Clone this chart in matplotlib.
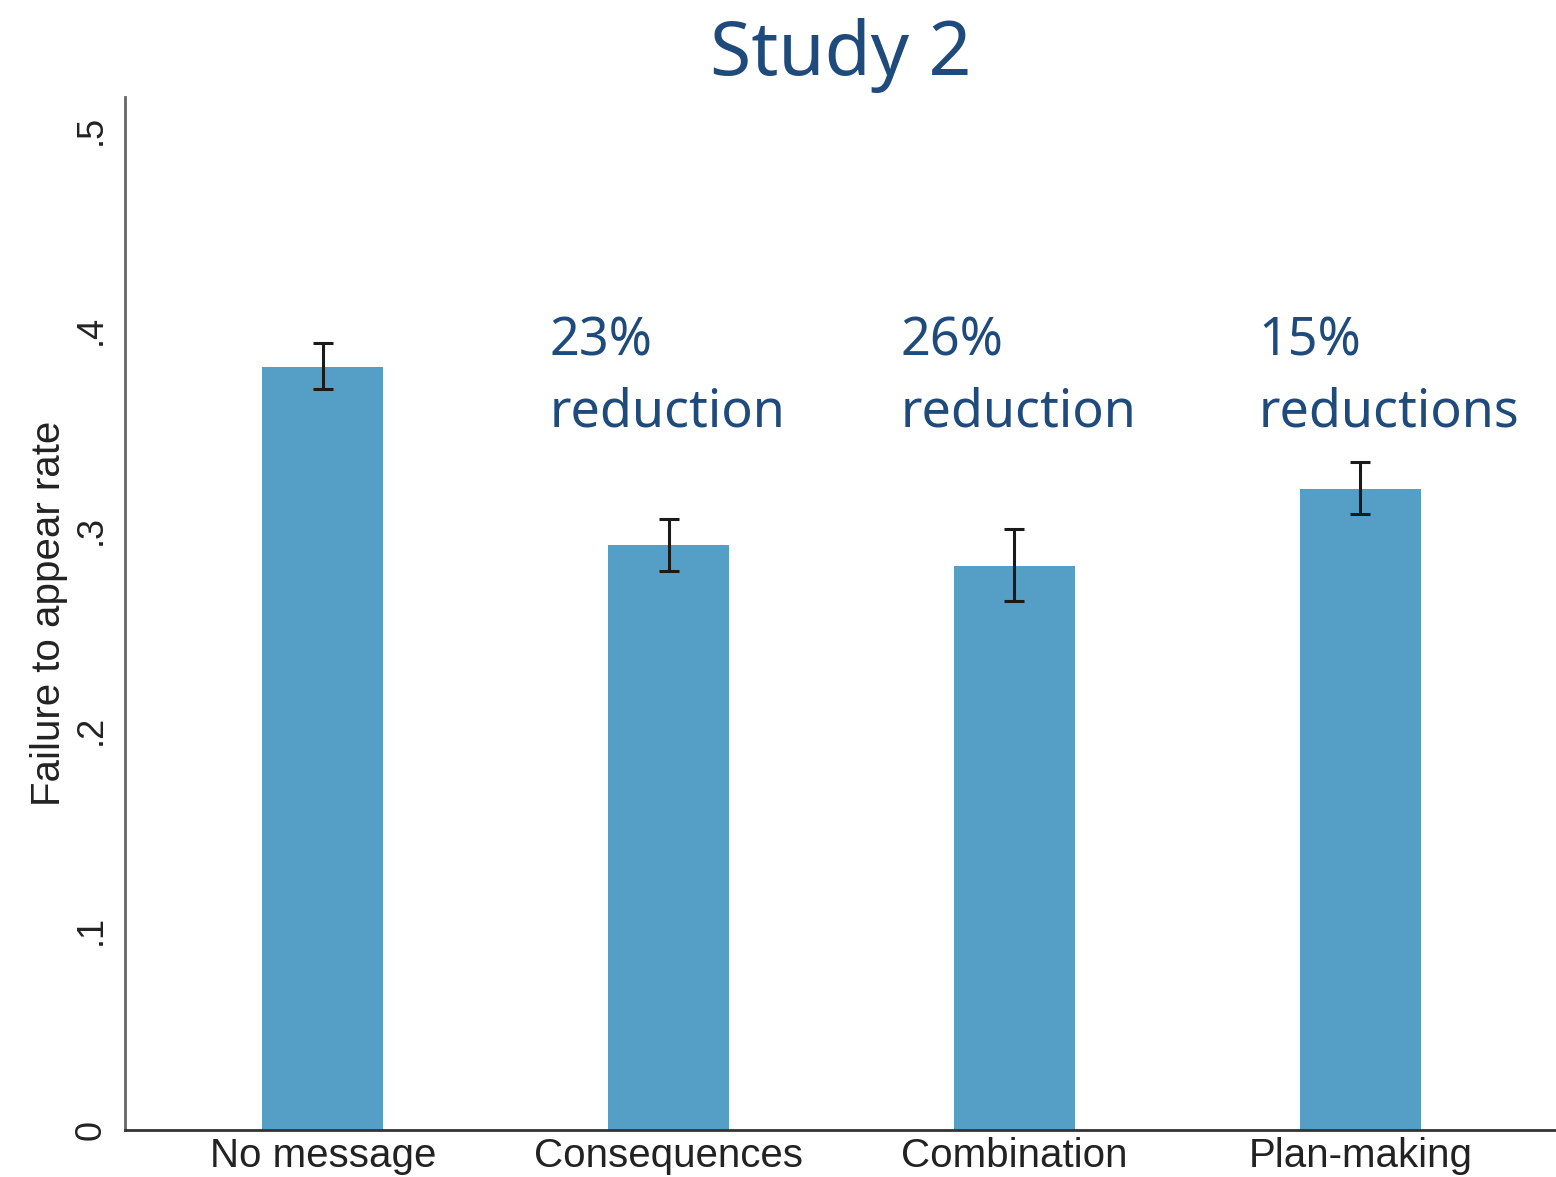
import matplotlib
matplotlib.use('Agg')
import matplotlib.pyplot as plt

# data
groups = ['No message', 'Consequences', 'Combination', 'Plan-making']
rates = [0.3815, 0.2925, 0.282, 0.3205]
err_low = [0.3705, 0.2795, 0.2645, 0.308]
err_high = [0.3935, 0.3055, 0.3005, 0.334]
notes = ['23%\nreduction', '26%\nreduction', '15%\nreductions']
yticks = [0, 0.1, 0.2, 0.3, 0.4, 0.5]
ytick_labels = ['0', '.1', '.2', '.3', '.4', '.5']

blue = '#559fc7'
dark = '#1f4a7c'

fig = plt.figure(figsize=(15.56, 11.77), dpi=100)
ax = fig.add_axes([0.0803, 0.04, 0.9197, 0.8776])

x = list(range(len(groups)))
yerr = [[r - lo for r, lo in zip(rates, err_low)],
        [hi - r for r, hi in zip(rates, err_high)]]
ax.bar(x, rates, width=0.35, color=blue)
ax.errorbar(x, rates, yerr=yerr, fmt='none', ecolor='#1a1a1a',
            elinewidth=2.2, capsize=7, capthick=2.2)

ax.set_xlim(-0.572, 3.566)
ax.set_ylim(0, 0.5165)
ax.set_xticks(x)
ax.set_xticklabels(groups, fontsize=29, family='Liberation Sans', color='#222222')
ax.set_yticks(yticks)
ax.set_yticklabels(ytick_labels, fontsize=26, family='Liberation Sans',
                   rotation=90, va='center', color='#222222')
ax.tick_params(length=0, pad=5)
ax.tick_params(axis='y', pad=12)
ax.set_ylabel('Failure to appear rate', fontsize=29, family='Liberation Sans',
              color='#222222', labelpad=4)

ax.spines['top'].set_visible(False)
ax.spines['right'].set_visible(False)
ax.spines['left'].set_color('#666666')
ax.spines['left'].set_linewidth(2)
ax.spines['bottom'].set_color('#333333')
ax.spines['bottom'].set_linewidth(2)

# annotations above the treatment bars
note_x = [0.655, 1.672, 2.705]
for nx, note in zip(note_x, notes):
    ax.text(nx, 0.407, note, fontsize=37.5, family='Noto Sans',
            color=dark, va='top', ha='left', linespacing=1.45)

fig.text(0.54, 0.985, 'Study 2', fontsize=54, family='Noto Sans',
         color=dark, ha='center', va='top')

fig.savefig('out.png', dpi=100)
